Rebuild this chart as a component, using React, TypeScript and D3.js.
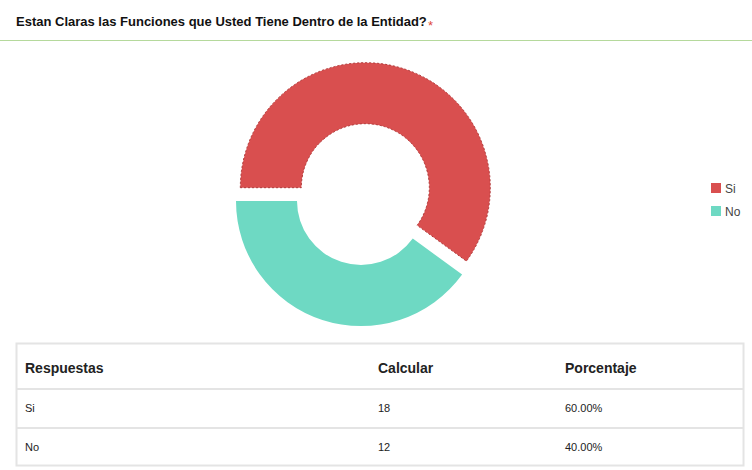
import * as d3 from 'd3';

const labels = ['Si', 'No'];
const counts = [18, 12];
const percents = ['60.00%', '40.00%'];
const colors = ['#d94f4f', '#6ed9c3'];

export default function App() {
  const cx = 361, cy = 201, rOut = 125, rIn = 64;
  const pie = d3.pie<number>().sort(null).startAngle(-Math.PI / 2).endAngle(1.5 * Math.PI);
  const arcs = pie(counts);
  const arc = d3.arc<d3.PieArcDatum<number>>().innerRadius(rIn).outerRadius(rOut);
  const font = 'Helvetica, Arial, "Liberation Sans", sans-serif';
  const rowY = [343, 389, 428, 466];
  const colX = [25, 378, 565];
  return (
    <svg width={752} height={470} style={{ position: 'absolute', left: 0, top: 0 }} fontFamily={font}>
      <rect width={752} height={470} fill="#fff" />
      <text x={16} y={26} fontSize={13} fontWeight="bold" fill="#111">Estan Claras las Funciones que Usted Tiene Dentro de la Entidad?</text>
      <text x={428} y={30} fontSize={13} fill="#e04a3a">*</text>
      <line x1={0} x2={752} y1={40.5} y2={40.5} stroke="#b5d99c" />
      {arcs.map((a, i) => {
        const mid = (a.startAngle + a.endAngle) / 2;
        const off = i === 0 ? 14 : 0;
        const dx = off * Math.sin(mid), dy = -off * Math.cos(mid);
        return (
          <path key={i} d={arc(a) ?? ''} transform={`translate(${cx + dx},${cy + dy})`}
            fill={colors[i]} stroke={i === 0 ? '#b03a3a' : 'none'} strokeWidth={1} strokeDasharray={i === 0 ? '2,2' : undefined} />
        );
      })}
      {labels.map((l, i) => (
        <g key={l} transform={`translate(711,${183 + i * 23})`}>
          <rect width={10} height={10} fill={colors[i]} />
          <text x={14} y={10} fontSize={12} fill="#444">{l}</text>
        </g>
      ))}
      <rect x={16.5} y={343.5} width={727} height={122} fill="#fff" stroke="#e4e4e4" strokeWidth={2} />
      <line x1={17} x2={743} y1={rowY[1]} y2={rowY[1]} stroke="#e4e4e4" strokeWidth={2} />
      <line x1={17} x2={743} y1={rowY[2]} y2={rowY[2]} stroke="#e4e4e4" strokeWidth={2} />
      {['Respuestas', 'Calcular', 'Porcentaje'].map((h, j) => (
        <text key={h} x={colX[j]} y={373} fontSize={14} fontWeight="bold" fill="#222">{h}</text>
      ))}
      {labels.map((l, i) => (
        <g key={l}>
          <text x={colX[0]} y={rowY[i + 1] + 23} fontSize={11} fill="#222">{l}</text>
          <text x={colX[1]} y={rowY[i + 1] + 23} fontSize={11} fill="#222">{counts[i]}</text>
          <text x={colX[2]} y={rowY[i + 1] + 23} fontSize={11} fill="#222">{percents[i]}</text>
        </g>
      ))}
    </svg>
  );
}
